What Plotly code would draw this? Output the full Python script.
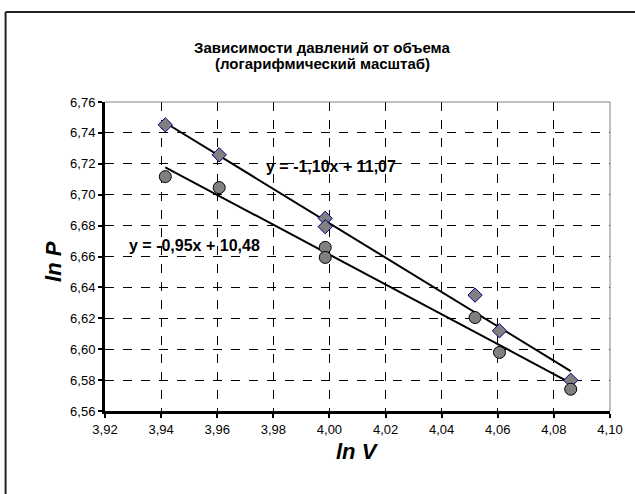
import numpy as np
import plotly.graph_objects as go

# ln V and ln P values for the two series
ln_v = [3.9415, 3.9607, 3.9985, 3.9985, 4.0519, 4.0606, 4.0860]
ln_p_upper = [6.7452, 6.7258, 6.6847, 6.6793, 6.6350, 6.6119, 6.5799]
ln_p_lower = [6.7117, 6.7046, 6.6659, 6.6594, 6.6205, 6.5979, 6.5741]

x_ticks = [3.92, 3.94, 3.96, 3.98, 4.00, 4.02, 4.04, 4.06, 4.08, 4.10]
y_ticks = [6.56, 6.58, 6.60, 6.62, 6.64, 6.66, 6.68, 6.70, 6.72, 6.74, 6.76]

title_lines = ["Зависимости давлений от объема", "(логарифмический масштаб)"]

W, H = 635, 494
ML, MR, MT, MB = 105, 22, 102, 83
PW, PH = W - ML - MR, H - MT - MB
FONT = "Arial, Liberation Sans"


def px_x(px):
    return (px - ML) / PW


def px_y(py):
    return (H - MB - py) / PH


fig = go.Figure()

# linear trend lines for each series
xs = np.array([min(ln_v), max(ln_v)])
for ys in (ln_p_upper, ln_p_lower):
    k, b = np.polyfit(ln_v, ys, 1)
    fig.add_trace(go.Scatter(x=xs, y=k * xs + b, mode="lines",
                             line=dict(color="black", width=2),
                             showlegend=False, hoverinfo="skip"))

fig.add_trace(go.Scatter(
    x=ln_v, y=ln_p_upper, mode="markers", showlegend=False,
    marker=dict(symbol="diamond", size=11, color="#808080",
                line=dict(color="#000080", width=1))))
fig.add_trace(go.Scatter(
    x=ln_v, y=ln_p_lower, mode="markers", showlegend=False,
    marker=dict(symbol="circle", size=12, color="#808080",
                line=dict(color="#000000", width=1))))

axis_common = dict(
    showgrid=True, gridcolor="black", griddash="dash", gridwidth=1,
    showline=True, linecolor="black", linewidth=3,
    ticks="outside", ticklen=4, tickwidth=2, tickcolor="black",
    tickfont=dict(family=FONT, size=13, color="black"),
    zeroline=False, tickformat=".2f",
)

fig.update_xaxes(range=[3.92, 4.10], tickvals=x_ticks, **axis_common)
fig.update_yaxes(range=[6.56, 6.76], tickvals=y_ticks, **axis_common)

eq_font = dict(family=FONT, size=16, color="black")
title_font = dict(family=FONT, size=15, color="black")
axis_title_font = dict(family=FONT, size=22, color="black")
annotations = [
    dict(x=3.9766, y=6.718, xref="x", yref="y", xanchor="left",
         text="<b>y = -1,10x + 11,07</b>", showarrow=False, font=eq_font),
    dict(x=3.9278, y=6.6674, xref="x", yref="y", xanchor="left",
         text="<b>y = -0,95x + 10,48</b>", showarrow=False, font=eq_font),
    dict(x=px_x(323.5), y=px_y(36.7), xref="paper", yref="paper",
         text="<b>%s</b>" % title_lines[0], showarrow=False, font=title_font),
    dict(x=px_x(323.5), y=px_y(52.5), xref="paper", yref="paper",
         text="<b>%s</b>" % title_lines[1], showarrow=False, font=title_font),
    dict(x=px_x(359), y=px_y(466), xref="paper", yref="paper",
         text="<b><i>ln V</i></b>", showarrow=False, font=axis_title_font),
    dict(x=px_x(38), y=px_y(261), xref="paper", yref="paper",
         text="<b><i>ln P</i></b>", showarrow=False, textangle=-90,
         font=axis_title_font),
]

shapes = [
    # thin gray frame on top and right of plot area
    dict(type="line", xref="paper", yref="paper", x0=0, x1=1, y0=1, y1=1,
         line=dict(color="#808080", width=1)),
    dict(type="line", xref="paper", yref="paper", x0=1, x1=1, y0=0, y1=1,
         line=dict(color="#808080", width=1)),
    # outer chart border
    dict(type="line", xref="paper", yref="paper", x0=px_x(5), x1=px_x(640),
         y0=px_y(12), y1=px_y(12), line=dict(color="#222222", width=2)),
    dict(type="line", xref="paper", yref="paper", x0=px_x(5), x1=px_x(5),
         y0=px_y(12), y1=px_y(500), line=dict(color="#222222", width=2)),
]

fig.update_layout(
    width=W, height=H,
    margin=dict(l=ML, r=MR, t=MT, b=MB),
    paper_bgcolor="white", plot_bgcolor="white",
    separators=", ",
    annotations=annotations, shapes=shapes,
    showlegend=False,
)

fig.write_html("out.html")
